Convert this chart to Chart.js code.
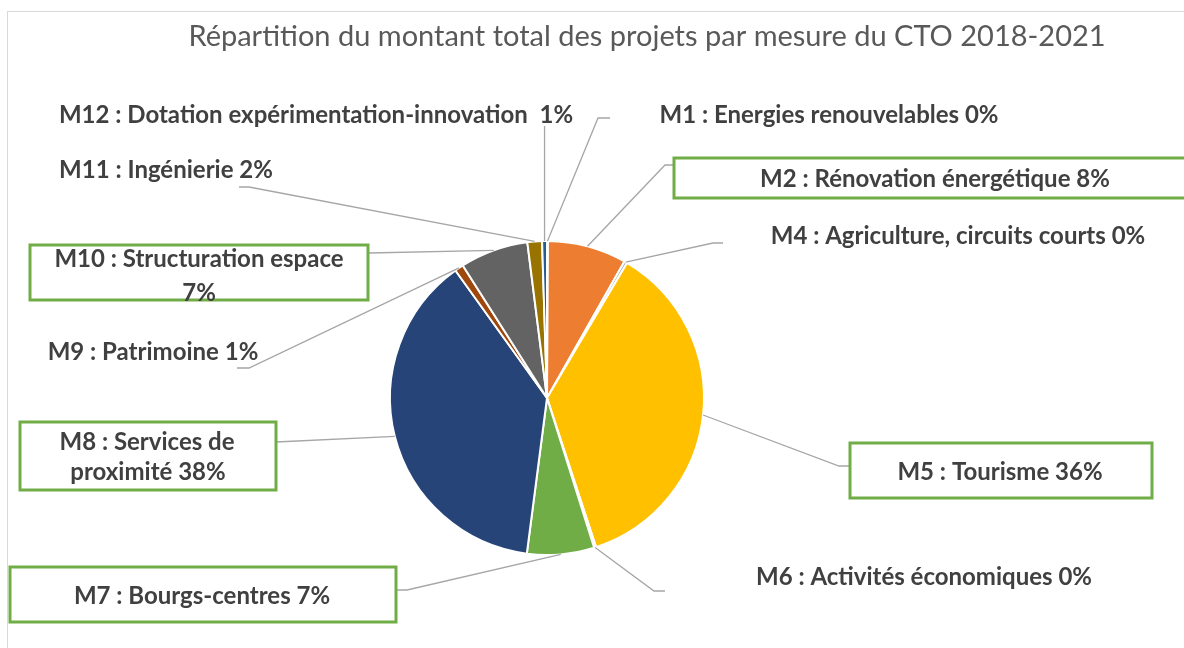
<!DOCTYPE html>
<html>
<head>
<meta charset="utf-8">
<script src="https://cdn.jsdelivr.net/npm/chart.js@4/dist/chart.umd.min.js"></script>
<style>
html,body{margin:0;padding:0;background:#fff;}
canvas{display:block;}
</style>
</head>
<body>
<canvas id="c" width="1184" height="648"></canvas>
<script>
// ---- data ----
const titleText = "Répartition du montant total des projets par mesure du CTO 2018-2021";
const categories = [
  "M1 : Energies renouvelables",
  "M2 : Rénovation énergétique",
  "M4 : Agriculture, circuits courts",
  "M5 : Tourisme",
  "M6 : Activités économiques",
  "M7 : Bourgs-centres",
  "M8 : Services de proximité",
  "M9 : Patrimoine",
  "M10 : Structuration espace",
  "M11 : Ingénierie",
  "M12 : Dotation expérimentation-innovation "
];
const shares = [0.1, 8.1, 0.3, 36.4, 0.2, 6.9, 38.0, 0.9, 7.0, 1.5, 0.5];
const colors = ["#4472C4","#ED7D31","#A5A5A5","#FFC000","#5B9BD5","#70AD47","#264478","#9E480E","#636363","#997300","#255E91"];

// ---- label layout (positions only) ----
const labelLayout = [
  {split:null, cx:[829], cy:[115], box:null, leader:[[610,118],[598,118]]},
  {split:null, cx:[935], cy:[179], box:[674,158,522,40], leader:[[674,165],[665,165]]},
  {split:null, cx:[958], cy:[236], box:null, leader:[[723,243],[713,243]]},
  {split:null, cx:[1000], cy:[472], box:[850,443,302,55], leader:[[850,466],[839,466]]},
  {split:null, cx:[924], cy:[577], box:null, leader:[[665,591],[654,591]]},
  {split:null, cx:[202], cy:[596], box:[10,567,386,55], leader:[[396,590],[407,590]]},
  {split:" de ", cx:[147,148], cy:[442,472], box:[20,422,256,68], leader:[[276,442]]},
  {split:null, cx:[153], cy:[352], box:null, leader:[[237,368],[249,368]]},
  {split:" espace ", cx:[199,199], cy:[259,293], box:[30,245,338,55], leader:[[368,253]]},
  {split:null, cx:[166], cy:[170], box:null, leader:[[239,187],[249,187]]},
  {split:null, cx:[316], cy:[115], box:null, leader:"vertical", topY:126}
];

const total = shares.reduce((a,b)=>a+b,0);

const labelPlugin = {
  id:'labelPlugin',
  beforeDraw(chart){
    const ctx = chart.ctx;
    ctx.save();
    ctx.fillStyle = '#fff';
    ctx.fillRect(0,0,chart.width,chart.height);
    ctx.strokeStyle = '#d9d9d9';
    ctx.lineWidth = 1;
    ctx.strokeRect(7.5, 11.5, 1300, 800);
    ctx.restore();
  },
  afterDatasetsDraw(chart){
    const ctx = chart.ctx;
    const meta = chart.getDatasetMeta(0);
    ctx.save();
    // title
    ctx.fillStyle = '#595959';
    ctx.font = '29px Lato';
    ctx.textAlign = 'center';
    ctx.textBaseline = 'middle';
    ctx.fillText(titleText, 647, 37);

    meta.data.forEach((arc, i) => {
      const L = labelLayout[i];
      const p = arc.getProps(['x','y','startAngle','endAngle','outerRadius'], true);
      const mid = (p.startAngle + p.endAngle) / 2;
      const ax = p.x + Math.cos(mid) * p.outerRadius;
      const ay = p.y + Math.sin(mid) * p.outerRadius;
      // leader
      ctx.strokeStyle = '#a6a6a6';
      ctx.lineWidth = 1.3;
      ctx.beginPath();
      if (L.leader === 'vertical') {
        ctx.moveTo(ax, L.topY);
        ctx.lineTo(ax, ay);
      } else {
        ctx.moveTo(L.leader[0][0], L.leader[0][1]);
        for (let k=1;k<L.leader.length;k++) ctx.lineTo(L.leader[k][0], L.leader[k][1]);
        ctx.lineTo(ax, ay);
      }
      ctx.stroke();
      // box
      if (L.box) {
        ctx.strokeStyle = '#70AD47';
        ctx.lineWidth = 3;
        ctx.fillStyle = '#fff';
        ctx.fillRect(L.box[0], L.box[1], L.box[2], L.box[3]);
        ctx.strokeRect(L.box[0], L.box[1], L.box[2], L.box[3]);
      }
      // text
      const pct = Math.round(shares[i] / total * 100) + '%';
      const full = categories[i] + ' ' + pct;
      let lines = [full];
      if (L.split) {
        const idx = full.indexOf(L.split);
        lines = [full.slice(0, idx + L.split.length - 1), full.slice(idx + L.split.length)];
      }
      ctx.fillStyle = '#404040';
      ctx.font = 'bold 24px Lato';
      ctx.textAlign = 'center';
      ctx.textBaseline = 'middle';
      lines.forEach((ln, k) => ctx.fillText(ln, L.cx[k], L.cy[k]));
    });
    ctx.restore();
  }
};

new Chart(document.getElementById('c'), {
  type: 'pie',
  data: {
    labels: categories,
    datasets: [{
      data: shares,
      backgroundColor: colors,
      borderColor: '#ffffff',
      borderWidth: 2
    }]
  },
  options: {
    responsive: false,
    animation: false,
    radius: 157,
    layout: { padding: { left: 380, right: 470, top: 230, bottom: 82 } },
    plugins: {
      legend: { display: false },
      tooltip: { enabled: false },
      title: { display: false }
    }
  },
  plugins: [labelPlugin]
});
</script>
</body>
</html>
